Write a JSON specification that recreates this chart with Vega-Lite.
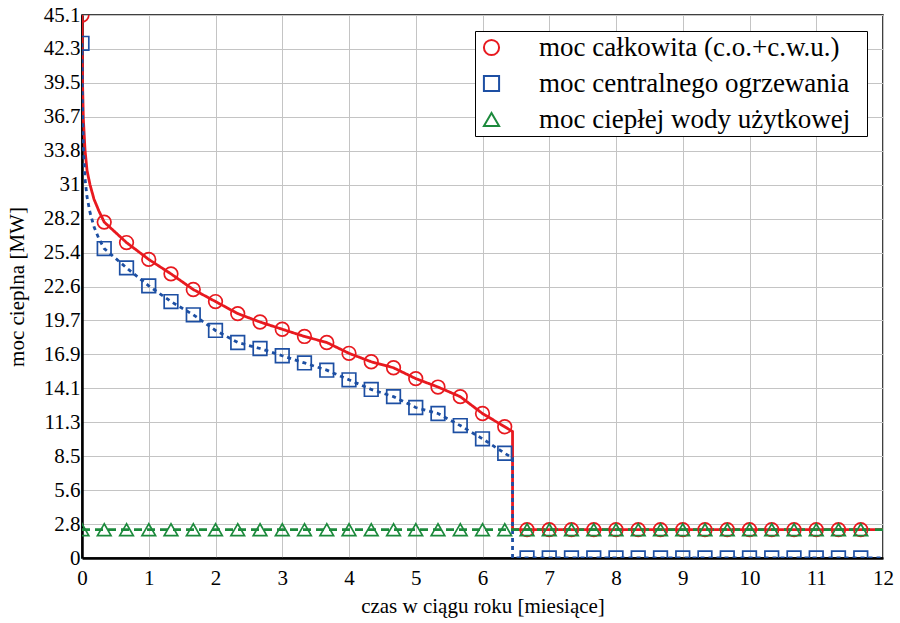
{
  "$schema": "https://vega.github.io/schema/vega-lite/v6.json",
  "width": 801,
  "height": 543,
  "autosize": {"type": "none"},
  "padding": {"left": 82, "top": 15, "right": 17, "bottom": 65},
  "background": "white",
  "config": {
    "view": {"stroke": "black", "strokeWidth": 1.5},
    "font": "Times New Roman, Liberation Serif, serif"
  },
  "datasets": {
    "curves": [
      {"m": 0, "v": 45.1, "s": "T"}, {"m": 0.008, "v": 39.5, "s": "T"}, {"m": 0.02, "v": 36.5, "s": "T"}, {"m": 0.045, "v": 33.9, "s": "T"}, {"m": 0.075, "v": 32.2, "s": "T"}, {"m": 0.12, "v": 31.0, "s": "T"}, {"m": 0.18, "v": 29.8, "s": "T"}, {"m": 0.255, "v": 28.8, "s": "T"}, {"m": 0.333, "v": 27.9, "s": "T"}, {"m": 0.667, "v": 26.2, "s": "T"}, {"m": 1, "v": 24.8, "s": "T"}, {"m": 1.333, "v": 23.6, "s": "T"}, {"m": 1.667, "v": 22.3, "s": "T"}, {"m": 2, "v": 21.3, "s": "T"}, {"m": 2.333, "v": 20.3, "s": "T"}, {"m": 2.667, "v": 19.6, "s": "T"}, {"m": 3, "v": 19.0, "s": "T"}, {"m": 3.333, "v": 18.4, "s": "T"}, {"m": 3.667, "v": 17.9, "s": "T"}, {"m": 4, "v": 17.0, "s": "T"}, {"m": 4.333, "v": 16.3, "s": "T"}, {"m": 4.667, "v": 15.8, "s": "T"}, {"m": 5, "v": 14.9, "s": "T"}, {"m": 5.333, "v": 14.2, "s": "T"}, {"m": 5.667, "v": 13.4, "s": "T"}, {"m": 6, "v": 12.0, "s": "T"}, {"m": 6.333, "v": 10.9, "s": "T"}, {"m": 6.45, "v": 10.5, "s": "T"}, {"m": 6.4501, "v": 2.35, "s": "T"}, {"m": 12, "v": 2.35, "s": "T"},
      {"m": 0, "v": 42.75, "s": "C"}, {"m": 0.008, "v": 37.2, "s": "C"}, {"m": 0.02, "v": 34.2, "s": "C"}, {"m": 0.045, "v": 31.5, "s": "C"}, {"m": 0.075, "v": 30.0, "s": "C"}, {"m": 0.12, "v": 28.7, "s": "C"}, {"m": 0.18, "v": 27.5, "s": "C"}, {"m": 0.255, "v": 26.5, "s": "C"}, {"m": 0.333, "v": 25.7, "s": "C"}, {"m": 0.667, "v": 24.1, "s": "C"}, {"m": 1, "v": 22.6, "s": "C"}, {"m": 1.333, "v": 21.3, "s": "C"}, {"m": 1.667, "v": 20.2, "s": "C"}, {"m": 2, "v": 18.9, "s": "C"}, {"m": 2.333, "v": 17.9, "s": "C"}, {"m": 2.667, "v": 17.4, "s": "C"}, {"m": 3, "v": 16.8, "s": "C"}, {"m": 3.333, "v": 16.2, "s": "C"}, {"m": 3.667, "v": 15.6, "s": "C"}, {"m": 4, "v": 14.8, "s": "C"}, {"m": 4.333, "v": 14.0, "s": "C"}, {"m": 4.667, "v": 13.4, "s": "C"}, {"m": 5, "v": 12.5, "s": "C"}, {"m": 5.333, "v": 12.0, "s": "C"}, {"m": 5.667, "v": 11.0, "s": "C"}, {"m": 6, "v": 9.9, "s": "C"}, {"m": 6.333, "v": 8.7, "s": "C"}, {"m": 6.45, "v": 8.3, "s": "C"}, {"m": 6.4501, "v": 0, "s": "C"}, {"m": 12, "v": 0, "s": "C"},
      {"m": 0, "v": 2.35, "s": "W"}, {"m": 12, "v": 2.35, "s": "W"}
    ],
    "markers": [
      {"m": 0, "v": 45.1, "s": "T"}, {"m": 0.333, "v": 27.9, "s": "T"}, {"m": 0.667, "v": 26.2, "s": "T"}, {"m": 1, "v": 24.8, "s": "T"}, {"m": 1.333, "v": 23.6, "s": "T"}, {"m": 1.667, "v": 22.3, "s": "T"}, {"m": 2, "v": 21.3, "s": "T"}, {"m": 2.333, "v": 20.3, "s": "T"}, {"m": 2.667, "v": 19.6, "s": "T"}, {"m": 3, "v": 19.0, "s": "T"}, {"m": 3.333, "v": 18.4, "s": "T"}, {"m": 3.667, "v": 17.9, "s": "T"}, {"m": 4, "v": 17.0, "s": "T"}, {"m": 4.333, "v": 16.3, "s": "T"}, {"m": 4.667, "v": 15.8, "s": "T"}, {"m": 5, "v": 14.9, "s": "T"}, {"m": 5.333, "v": 14.2, "s": "T"}, {"m": 5.667, "v": 13.4, "s": "T"}, {"m": 6, "v": 12.0, "s": "T"}, {"m": 6.333, "v": 10.9, "s": "T"},
      {"m": 6.667, "v": 2.35, "s": "T"}, {"m": 7, "v": 2.35, "s": "T"}, {"m": 7.333, "v": 2.35, "s": "T"}, {"m": 7.667, "v": 2.35, "s": "T"}, {"m": 8, "v": 2.35, "s": "T"}, {"m": 8.333, "v": 2.35, "s": "T"}, {"m": 8.667, "v": 2.35, "s": "T"}, {"m": 9, "v": 2.35, "s": "T"}, {"m": 9.333, "v": 2.35, "s": "T"}, {"m": 9.667, "v": 2.35, "s": "T"}, {"m": 10, "v": 2.35, "s": "T"}, {"m": 10.333, "v": 2.35, "s": "T"}, {"m": 10.667, "v": 2.35, "s": "T"}, {"m": 11, "v": 2.35, "s": "T"}, {"m": 11.333, "v": 2.35, "s": "T"}, {"m": 11.667, "v": 2.35, "s": "T"},
      {"m": 0, "v": 42.75, "s": "C"}, {"m": 0.333, "v": 25.7, "s": "C"}, {"m": 0.667, "v": 24.1, "s": "C"}, {"m": 1, "v": 22.6, "s": "C"}, {"m": 1.333, "v": 21.3, "s": "C"}, {"m": 1.667, "v": 20.2, "s": "C"}, {"m": 2, "v": 18.9, "s": "C"}, {"m": 2.333, "v": 17.9, "s": "C"}, {"m": 2.667, "v": 17.4, "s": "C"}, {"m": 3, "v": 16.8, "s": "C"}, {"m": 3.333, "v": 16.2, "s": "C"}, {"m": 3.667, "v": 15.6, "s": "C"}, {"m": 4, "v": 14.8, "s": "C"}, {"m": 4.333, "v": 14.0, "s": "C"}, {"m": 4.667, "v": 13.4, "s": "C"}, {"m": 5, "v": 12.5, "s": "C"}, {"m": 5.333, "v": 12.0, "s": "C"}, {"m": 5.667, "v": 11.0, "s": "C"}, {"m": 6, "v": 9.9, "s": "C"}, {"m": 6.333, "v": 8.7, "s": "C"},
      {"m": 6.667, "v": 0, "s": "C"}, {"m": 7, "v": 0, "s": "C"}, {"m": 7.333, "v": 0, "s": "C"}, {"m": 7.667, "v": 0, "s": "C"}, {"m": 8, "v": 0, "s": "C"}, {"m": 8.333, "v": 0, "s": "C"}, {"m": 8.667, "v": 0, "s": "C"}, {"m": 9, "v": 0, "s": "C"}, {"m": 9.333, "v": 0, "s": "C"}, {"m": 9.667, "v": 0, "s": "C"}, {"m": 10, "v": 0, "s": "C"}, {"m": 10.333, "v": 0, "s": "C"}, {"m": 10.667, "v": 0, "s": "C"}, {"m": 11, "v": 0, "s": "C"}, {"m": 11.333, "v": 0, "s": "C"}, {"m": 11.667, "v": 0, "s": "C"},
      {"m": 0, "v": 2.35, "s": "W"}, {"m": 0.333, "v": 2.35, "s": "W"}, {"m": 0.667, "v": 2.35, "s": "W"}, {"m": 1, "v": 2.35, "s": "W"}, {"m": 1.333, "v": 2.35, "s": "W"}, {"m": 1.667, "v": 2.35, "s": "W"}, {"m": 2, "v": 2.35, "s": "W"}, {"m": 2.333, "v": 2.35, "s": "W"}, {"m": 2.667, "v": 2.35, "s": "W"}, {"m": 3, "v": 2.35, "s": "W"}, {"m": 3.333, "v": 2.35, "s": "W"}, {"m": 3.667, "v": 2.35, "s": "W"}, {"m": 4, "v": 2.35, "s": "W"}, {"m": 4.333, "v": 2.35, "s": "W"}, {"m": 4.667, "v": 2.35, "s": "W"}, {"m": 5, "v": 2.35, "s": "W"}, {"m": 5.333, "v": 2.35, "s": "W"}, {"m": 5.667, "v": 2.35, "s": "W"}, {"m": 6, "v": 2.35, "s": "W"}, {"m": 6.333, "v": 2.35, "s": "W"},
      {"m": 6.667, "v": 2.35, "s": "W"}, {"m": 7, "v": 2.35, "s": "W"}, {"m": 7.333, "v": 2.35, "s": "W"}, {"m": 7.667, "v": 2.35, "s": "W"}, {"m": 8, "v": 2.35, "s": "W"}, {"m": 8.333, "v": 2.35, "s": "W"}, {"m": 8.667, "v": 2.35, "s": "W"}, {"m": 9, "v": 2.35, "s": "W"}, {"m": 9.333, "v": 2.35, "s": "W"}, {"m": 9.667, "v": 2.35, "s": "W"}, {"m": 10, "v": 2.35, "s": "W"}, {"m": 10.333, "v": 2.35, "s": "W"}, {"m": 10.667, "v": 2.35, "s": "W"}, {"m": 11, "v": 2.35, "s": "W"}, {"m": 11.333, "v": 2.35, "s": "W"}, {"m": 11.667, "v": 2.35, "s": "W"}
    ]
  },
  "encoding": {
    "x": {
      "field": "m", "type": "quantitative",
      "scale": {"domain": [0, 12], "nice": false, "zero": false},
      "title": "czas w ciągu roku [miesiące]",
      "axis": {
        "values": [0, 1, 2, 3, 4, 5, 6, 7, 8, 9, 10, 11, 12],
        "labelFont": "Times New Roman, Liberation Serif, serif", "labelFontSize": 21, "labelColor": "black",
        "labelFlush": false, "labelOverlap": false, "labelPadding": 9, "labelDx": 4,
        "ticks": false, "domainColor": "black", "domainWidth": 2.5,
        "grid": true, "gridColor": "#c4c4c4", "gridWidth": 1,
        "titleFont": "Times New Roman, Liberation Serif, serif", "titleFontSize": 21, "titleFontWeight": "normal", "titleColor": "black", "titlePadding": 7
      }
    },
    "y": {
      "field": "v", "type": "quantitative",
      "scale": {"domain": [0, 45.1], "nice": false},
      "title": "moc cieplna [MW]",
      "axis": {
        "values": [0, 2.81875, 5.6375, 8.45625, 11.275, 14.09375, 16.9125, 19.73125, 22.55, 25.36875, 28.1875, 31.00625, 33.825, 36.64375, 39.4625, 42.28125, 45.1],
        "labelExpr": "['0','2.8','5.6','8.5','11.3','14.1','16.9','19.7','22.6','25.4','28.2','31','33.8','36.7','39.5','42.3','45.1'][round(datum.value / 2.81875)]",
        "labelFont": "Times New Roman, Liberation Serif, serif", "labelFontSize": 21, "labelColor": "black",
        "labelFlush": false, "labelOverlap": false, "labelPadding": 2, "labelDy": 4,
        "ticks": false, "domainColor": "black", "domainWidth": 2.5,
        "grid": true, "gridColor": "#c4c4c4", "gridWidth": 1,
        "titleFont": "Times New Roman, Liberation Serif, serif", "titleFontSize": 21, "titleFontWeight": "normal", "titleColor": "black", "titlePadding": 16
      }
    }
  },
  "layer": [
    {
      "data": {"name": "curves"},
      "mark": {"type": "line", "strokeWidth": 2.8, "clip": true},
      "encoding": {
        "color": {
          "field": "s", "type": "nominal",
          "scale": {"domain": ["T", "C", "W"], "range": ["#e8191f", "#1d4fa3", "#1c8a3c"]},
          "legend": {
            "orient": "top-right", "offset": 16, "title": "\u00a0", "titleOrient": "right", "titleFontSize": 10, "titlePadding": 14,
            "labelExpr": "datum.value == 'T' ? 'moc całkowita (c.o.+c.w.u.)' : datum.value == 'C' ? 'moc centralnego ogrzewania' : 'moc ciepłej wody użytkowej'",
            "labelFont": "Times New Roman, Liberation Serif, serif", "labelFontSize": 27, "labelColor": "black", "labelLimit": 600, "labelOffset": 34,
            "symbolSize": 230, "symbolStrokeWidth": 2, "symbolFillColor": "transparent", "rowPadding": 8, "padding": 3,
            "strokeColor": "black", "fillColor": "white", "cornerRadius": 0
          }
        },
        "strokeDash": {
          "condition": [
            {"test": "datum.s === 'C'", "value": [4, 4]},
            {"test": "datum.s === 'W'", "value": [8, 5]}
          ],
          "value": [1, 0]
        }
      }
    },
    {
      "data": {"name": "markers"},
      "mark": {"type": "point", "filled": false, "strokeWidth": 1.7, "clip": true, "opacity": 1},
      "encoding": {
        "color": {"field": "s", "type": "nominal"},
        "shape": {
          "field": "s", "type": "nominal",
          "scale": {"domain": ["T", "C", "W"], "range": ["circle", "square", "triangle-up"]},
          "legend": null
        },
        "size": {"value": 185}
      }
    }
  ]
}
